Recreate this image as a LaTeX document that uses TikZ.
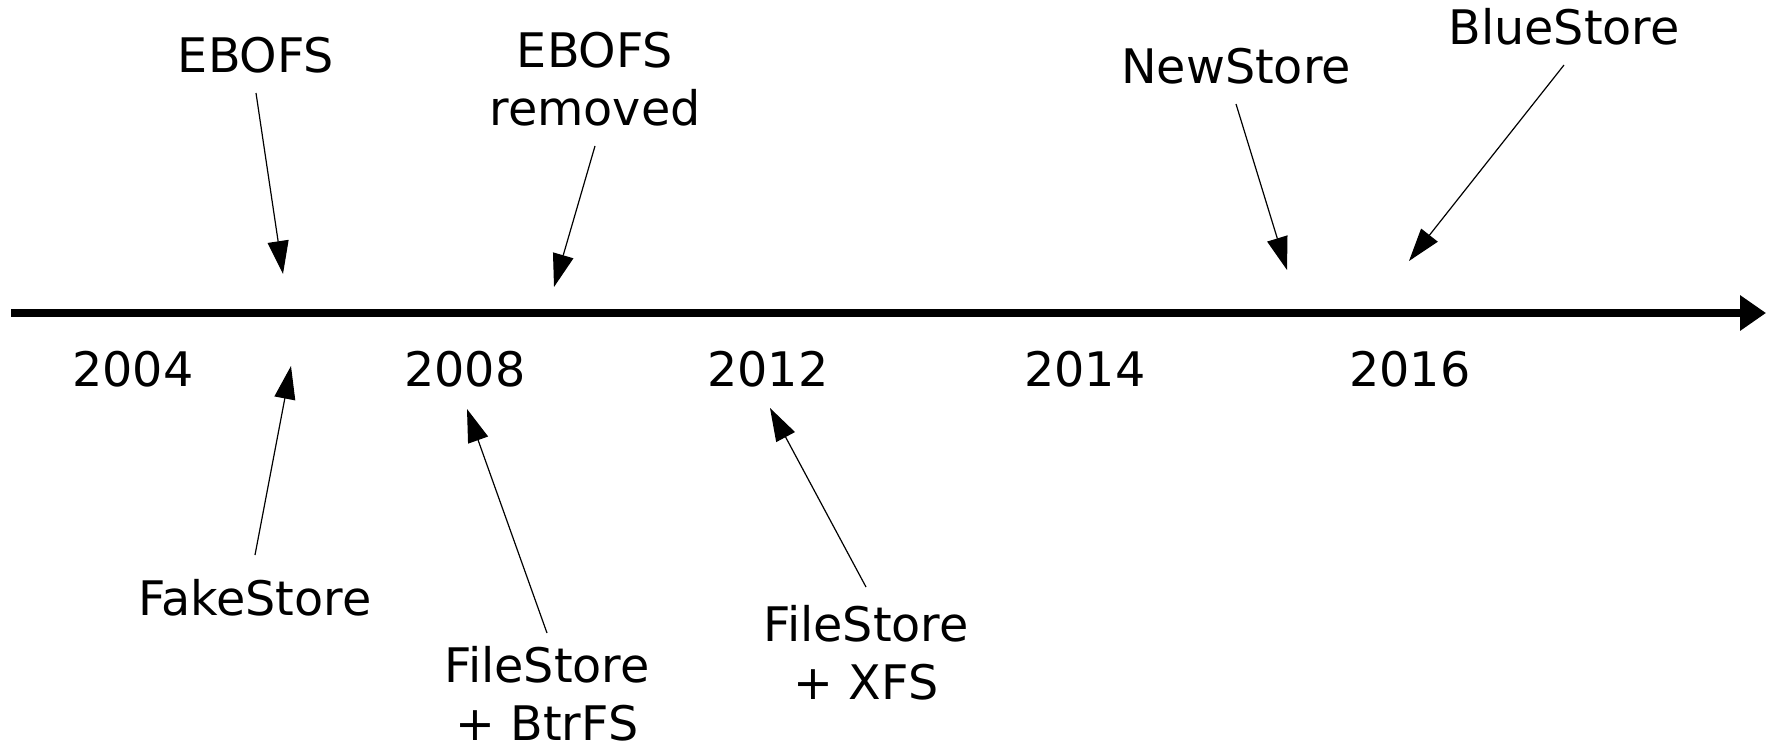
\documentclass[tikz,border=0pt]{standalone}
\usepackage{fontspec}
\setmainfont{DejaVu Sans}
\usetikzlibrary{arrows.meta}
\begin{document}
\begin{tikzpicture}[x=0.5pt,y=-0.5pt,
  lbl/.style={font=\fontsize{23.8}{29}\selectfont, inner sep=0pt, align=center},
  conn/.style={line width=0.6pt, -{Triangle[length=16.5pt,width=10.5pt]}},
  axis/.style={line width=4pt, -{Triangle[length=13pt,width=17pt]}}]
\useasboundingbox (0,0) rectangle (1766,744);

% time axis
\coordinate (t0) at (11,313);
\coordinate (t1) at (1766,313);
\draw[axis] (t0) -- (t1);

% years
\node[lbl, anchor=base] (y2004) at (133,386) {2004};
\node[lbl, anchor=base] (y2008) at (465,386) {2008};
\node[lbl, anchor=base] (y2012) at (768,386) {2012};
\node[lbl, anchor=base] (y2014) at (1085,386) {2014};
\node[lbl, anchor=base] (y2016) at (1410,386) {2016};

% events above the axis
\node[lbl, anchor=south, outer ysep=10pt] (ebofs) at (256,93) {EBOFS};
\node[lbl, anchor=south, outer ysep=10pt] (removed) at (595,146) {EBOFS\\removed};
\node[lbl, anchor=south, outer ysep=10pt] (newstore) at (1236,104) {NewStore};
\node[lbl, anchor=south, outer ysep=10pt] (bluestore) at (1564,65) {BlueStore};

\coordinate (ebofs-tip) at (283,274);
\coordinate (removed-tip) at (554,287);
\coordinate (newstore-tip) at (1287,270);
\coordinate (bluestore-tip) at (1409,261);

\draw[conn] (ebofs.south) -- (ebofs-tip);
\draw[conn] (removed.south) -- (removed-tip);
\draw[conn] (newstore.south) -- (newstore-tip);
\draw[conn] (bluestore.south) -- (bluestore-tip);

% events below the axis
\node[lbl, anchor=north, outer ysep=12pt] (fake) at (255,555) {FakeStore};
\node[lbl, anchor=north, outer ysep=6.5pt] (btrfs) at (547,633) {FileStore\\+ BtrFS};
\node[lbl, anchor=north, outer ysep=9pt] (xfs) at (866,587) {FileStore\\+ XFS};

\coordinate (fake-tip) at (291,366);
\coordinate (btrfs-tip) at (467,409);
\coordinate (xfs-tip) at (770,408);

\draw[conn] (fake.north) -- (fake-tip);
\draw[conn] (btrfs.north) -- (btrfs-tip);
\draw[conn] (xfs.north) -- (xfs-tip);
\end{tikzpicture}
\end{document}
